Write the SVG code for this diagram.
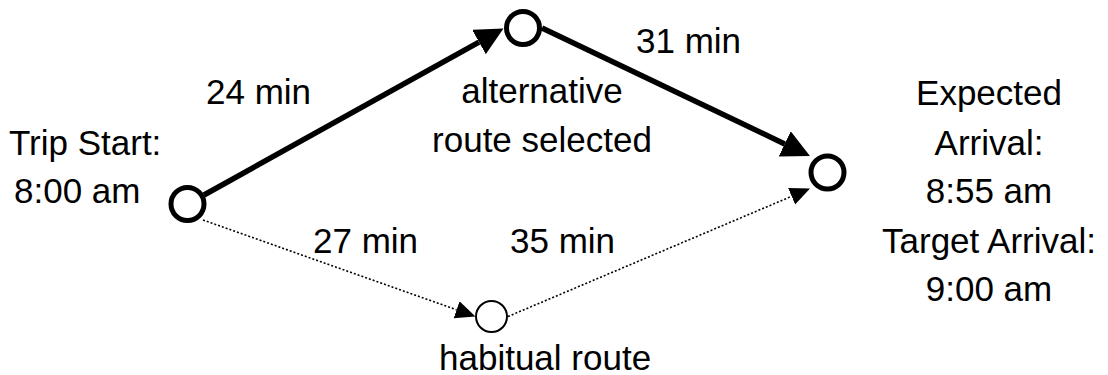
<svg xmlns="http://www.w3.org/2000/svg" width="1108" height="375" viewBox="0 0 1108 375">
  <style>
    text { font-family: "Liberation Sans", Arial, sans-serif; font-size: 35px; fill: #000; }
    .mid { text-anchor: middle; }
    .main { fill: #fff; stroke: #000; stroke-width: 5; }
    .hab { fill: #fff; stroke: #000; stroke-width: 2; }
    .thick { stroke: #000; stroke-width: 5.5; fill: none; marker-end: url(#bigArrow); }
    .dotted { stroke: #000; stroke-width: 1.6; stroke-dasharray: 2 2; fill: none; marker-end: url(#smallArrow); }
  </style>
  <defs>
    <marker id="bigArrow" markerUnits="userSpaceOnUse" markerWidth="29" markerHeight="29" refX="0" refY="14" orient="auto" viewBox="0 0 29 29">
      <path d="M0,0 L28,14 L0,28 z" fill="#000"/>
    </marker>
    <marker id="smallArrow" markerUnits="userSpaceOnUse" markerWidth="21" markerHeight="19" refX="0" refY="9" orient="auto" viewBox="0 0 21 19">
      <path d="M0,0 L20,9 L0,18 z" fill="#000"/>
    </marker>
  </defs>
  <rect width="1108" height="375" fill="#fff"/>

  <g id="connectors">
    <line class="thick" x1="204" y1="195" x2="479" y2="42.1"/>
    <line class="thick" x1="542" y1="28" x2="784.7" y2="143.9"/>
    <line class="dotted" x1="203" y1="220" x2="456.6" y2="309.8"/>
    <line class="dotted" x1="508" y1="316.5" x2="791.6" y2="196.3"/>
  </g>

  <g id="node-start">
    <circle class="main" cx="187.5" cy="204" r="16.5"/>
    <text x="9" y="155">Trip Start:</text>
    <text x="14" y="203">8:00 am</text>
  </g>
  <g id="node-alternative">
    <circle class="main" cx="523" cy="28" r="16.5"/>
    <text class="mid" x="542" y="103">alternative</text>
    <text class="mid" x="542" y="152">route selected</text>
  </g>
  <g id="node-habitual">
    <circle class="hab" cx="491.5" cy="316.5" r="15.5"/>
    <text x="439" y="370">habitual route</text>
  </g>
  <g id="node-arrival">
    <circle class="main" cx="827.5" cy="172.5" r="16.5"/>
    <text class="mid" x="989" y="105">Expected</text>
    <text class="mid" x="989" y="155">Arrival:</text>
    <text class="mid" x="989" y="203">8:55 am</text>
    <text class="mid" x="989" y="253">Target Arrival:</text>
    <text class="mid" x="989" y="301">9:00 am</text>
  </g>

  <g id="edge-labels">
    <text x="206" y="104">24 min</text>
    <text x="636" y="53">31 min</text>
    <text x="313" y="253">27 min</text>
    <text x="510" y="253">35 min</text>
  </g>
</svg>
